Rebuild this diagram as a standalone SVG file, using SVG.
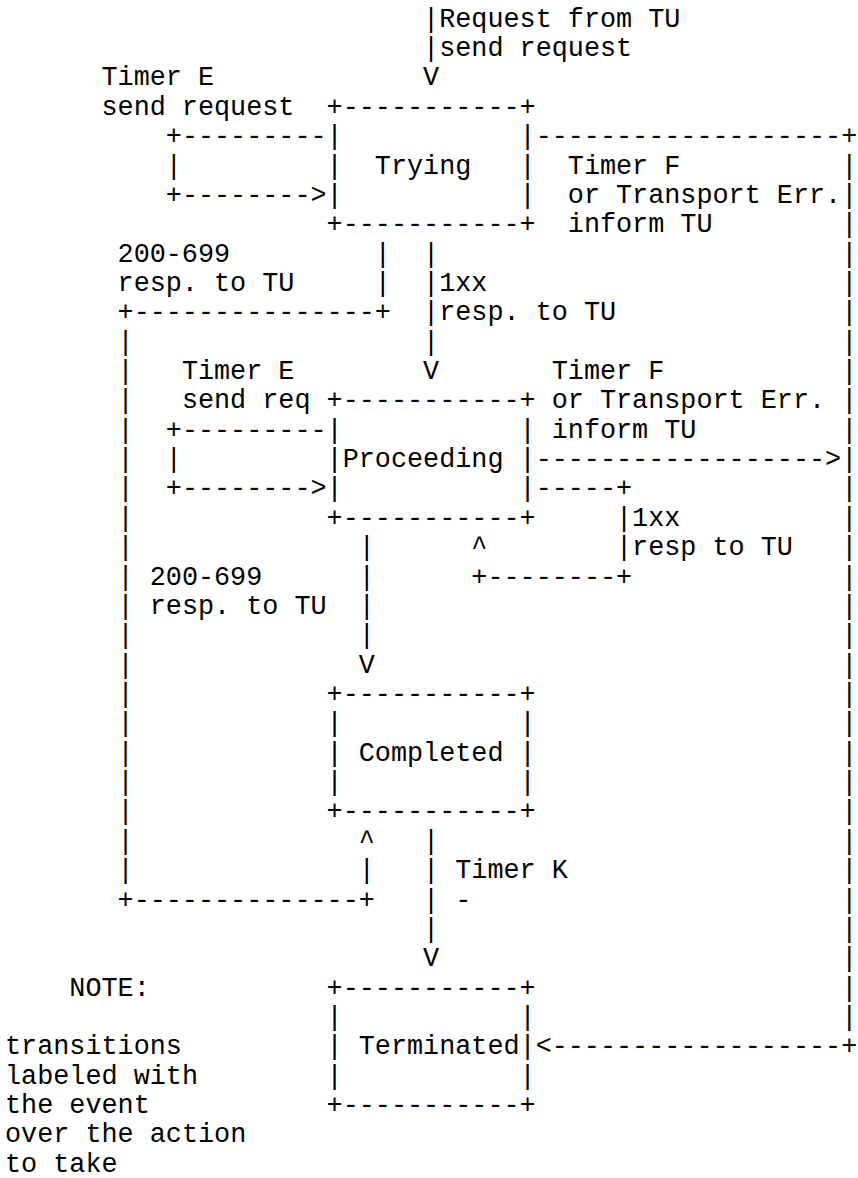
<svg xmlns="http://www.w3.org/2000/svg" width="858" height="1178" viewBox="0 0 858 1178">
<style>
text { font-family: "Liberation Mono", "Courier New", monospace; font-size: 26.8px; fill: #000; }
</style>
<rect width="858" height="1178" fill="#fff"/>
<g id="connectors">
<text x="423.08" y="26.7">|</text><text x="439.16" y="26.7">Request from TU</text>
<text x="423.08" y="56.06">|</text><text x="439.16" y="56.06">send request</text>
<text x="101.48" y="85.42">Timer E</text><text x="423.08" y="85.42">V</text>
<text x="101.48" y="114.78">send request</text>
<text x="165.8" y="144.14">+---------</text><text x="535.64" y="144.14">-------------------+</text>
<text x="165.8" y="173.5">|</text><text x="567.8" y="173.5">Timer F</text><text x="841.16" y="173.5">|</text>
<text x="165.8" y="202.86">+--------&gt;</text><text x="567.8" y="202.86">or Transport Err.</text><text x="841.16" y="202.86">|</text>
<text x="567.8" y="232.22">inform TU</text><text x="841.16" y="232.22">|</text>
<text x="117.56" y="261.58">200-699</text><text x="374.84" y="261.58">|</text><text x="423.08" y="261.58">|</text><text x="841.16" y="261.58">|</text>
<text x="117.56" y="290.94">resp. to TU</text><text x="374.84" y="290.94">|</text><text x="423.08" y="290.94">|</text><text x="439.16" y="290.94">1xx</text><text x="841.16" y="290.94">|</text>
<text x="117.56" y="320.3">+---------------+</text><text x="423.08" y="320.3">|</text><text x="439.16" y="320.3">resp. to TU</text><text x="841.16" y="320.3">|</text>
<text x="117.56" y="349.66">|</text><text x="423.08" y="349.66">|</text><text x="841.16" y="349.66">|</text>
<text x="117.56" y="379.02">|</text><text x="181.88" y="379.02">Timer E</text><text x="423.08" y="379.02">V</text><text x="551.72" y="379.02">Timer F</text><text x="841.16" y="379.02">|</text>
<text x="117.56" y="408.38">|</text><text x="181.88" y="408.38">send req</text><text x="551.72" y="408.38">or Transport Err.</text><text x="841.16" y="408.38">|</text>
<text x="117.56" y="437.74">|</text><text x="165.8" y="437.74">+---------</text><text x="551.72" y="437.74">inform TU</text><text x="841.16" y="437.74">|</text>
<text x="117.56" y="467.1">|</text><text x="165.8" y="467.1">|</text><text x="535.64" y="467.1">------------------&gt;|</text>
<text x="117.56" y="496.46">|</text><text x="165.8" y="496.46">+--------&gt;</text><text x="535.64" y="496.46">-----+</text><text x="841.16" y="496.46">|</text>
<text x="117.56" y="525.82">|</text><text x="616.04" y="525.82">|</text><text x="632.12" y="525.82">1xx</text><text x="841.16" y="525.82">|</text>
<text x="117.56" y="555.18">|</text><text x="358.76" y="555.18">|</text><text x="471.32" y="555.18">^</text><text x="616.04" y="555.18">|</text><text x="632.12" y="555.18">resp to TU</text><text x="841.16" y="555.18">|</text>
<text x="117.56" y="584.54">|</text><text x="149.72" y="584.54">200-699</text><text x="358.76" y="584.54">|</text><text x="471.32" y="584.54">+--------+</text><text x="841.16" y="584.54">|</text>
<text x="117.56" y="613.9">|</text><text x="149.72" y="613.9">resp. to TU</text><text x="358.76" y="613.9">|</text><text x="841.16" y="613.9">|</text>
<text x="117.56" y="643.26">|</text><text x="358.76" y="643.26">|</text><text x="841.16" y="643.26">|</text>
<text x="117.56" y="672.62">|</text><text x="358.76" y="672.62">V</text><text x="841.16" y="672.62">|</text>
<text x="117.56" y="701.98">|</text><text x="841.16" y="701.98">|</text>
<text x="117.56" y="731.34">|</text><text x="841.16" y="731.34">|</text>
<text x="117.56" y="760.7">|</text><text x="841.16" y="760.7">|</text>
<text x="117.56" y="790.06">|</text><text x="841.16" y="790.06">|</text>
<text x="117.56" y="819.42">|</text><text x="841.16" y="819.42">|</text>
<text x="117.56" y="848.78">|</text><text x="358.76" y="848.78">^</text><text x="423.08" y="848.78">|</text><text x="841.16" y="848.78">|</text>
<text x="117.56" y="878.14">|</text><text x="358.76" y="878.14">|</text><text x="423.08" y="878.14">|</text><text x="455.24" y="878.14">Timer K</text><text x="841.16" y="878.14">|</text>
<text x="117.56" y="907.5">+--------------+</text><text x="423.08" y="907.5">|</text><text x="455.24" y="907.5">-</text><text x="841.16" y="907.5">|</text>
<text x="423.08" y="936.86">|</text><text x="841.16" y="936.86">|</text>
<text x="423.08" y="966.22">V</text><text x="841.16" y="966.22">|</text>
<text x="841.16" y="995.58">|</text>
<text x="841.16" y="1024.94">|</text>
<text x="535.64" y="1054.3">&lt;------------------+</text>
</g>
<g id="trying">
<text x="326.6" y="114.78">+-----------+</text>
<text x="326.6" y="144.14">|</text><text x="519.56" y="144.14">|</text>
<text x="326.6" y="173.5">|</text><text x="374.84" y="173.5">Trying</text><text x="519.56" y="173.5">|</text>
<text x="326.6" y="202.86">|</text><text x="519.56" y="202.86">|</text>
<text x="326.6" y="232.22">+-----------+</text>
</g>
<g id="proceeding">
<text x="326.6" y="408.38">+-----------+</text>
<text x="326.6" y="437.74">|</text><text x="519.56" y="437.74">|</text>
<text x="326.6" y="467.1">|</text><text x="342.68" y="467.1">Proceeding</text><text x="519.56" y="467.1">|</text>
<text x="326.6" y="496.46">|</text><text x="519.56" y="496.46">|</text>
<text x="326.6" y="525.82">+-----------+</text>
</g>
<g id="completed">
<text x="326.6" y="701.98">+-----------+</text>
<text x="326.6" y="731.34">|</text><text x="519.56" y="731.34">|</text>
<text x="326.6" y="760.7">|</text><text x="358.76" y="760.7">Completed</text><text x="519.56" y="760.7">|</text>
<text x="326.6" y="790.06">|</text><text x="519.56" y="790.06">|</text>
<text x="326.6" y="819.42">+-----------+</text>
</g>
<g id="terminated">
<text x="326.6" y="995.58">+-----------+</text>
<text x="326.6" y="1024.94">|</text><text x="519.56" y="1024.94">|</text>
<text x="326.6" y="1054.3">|</text><text x="358.76" y="1054.3">Terminated</text><text x="519.56" y="1054.3">|</text>
<text x="326.6" y="1083.66">|</text><text x="519.56" y="1083.66">|</text>
<text x="326.6" y="1113.02">+-----------+</text>
</g>
<g id="note">
<text x="69.32" y="995.58">NOTE:</text>
<text x="5" y="1054.3">transitions</text>
<text x="5" y="1083.66">labeled with</text>
<text x="5" y="1113.02">the event</text>
<text x="5" y="1142.38">over the action</text>
<text x="5" y="1171.74">to take</text>
</g>
</svg>
